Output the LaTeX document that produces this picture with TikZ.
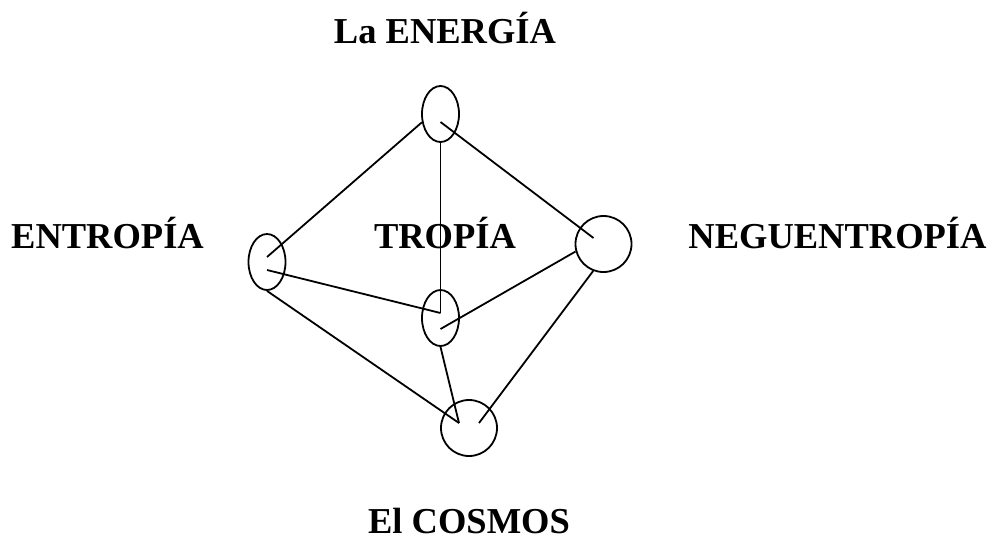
\documentclass[tikz,border=0pt]{standalone}
\usepackage{fontspec}
\setmainfont{Liberation Serif}
\usetikzlibrary{shapes.geometric}

\begin{document}
\begin{tikzpicture}[x=1pt,y=-1pt,line width=1.8pt,
    oval/.style={draw,ellipse,inner sep=0pt,minimum width=37pt,minimum height=56pt},
    ring/.style={draw,circle,inner sep=0pt,minimum size=56pt},
    title/.style={anchor=base,inner sep=0pt,font=\fontsize{36.5}{40}\selectfont\bfseries}]
    \useasboundingbox (0,0) rectangle (992,542);
    % names
    \node[title] (tEnergia) at (445,43) {La ENERGÍA};
    \node[title] (tEntropia) at (107.5,248) {ENTROPÍA};
    \node[title] (tTropia) at (445,248) {TROPÍA};
    \node[title] (tNeguen) at (837.5,248) {NEGUENTROPÍA};
    \node[title] (tCosmos) at (469,533) {El COSMOS};
    % the five bodies
    \node[oval] (energia) at (440.5,114) {};
    \node[oval] (entropia) at (267,262) {};
    \node[oval] (tropia) at (440.5,318) {};
    \node[ring] (neguen) at (603.5,244) {};
    \node[ring] (cosmos) at (469,428) {};
    % links
    \draw (energia.204) -- ([yshift=5pt]entropia.center);
    \draw ([yshift=-8pt]energia.center) -- ([xshift=-10pt,yshift=6pt]neguen.center);
    \draw (energia.south) -- ([yshift=5pt]tropia.center);
    \draw ([yshift=-8pt]entropia.center) -- ([yshift=5pt]tropia.center);
    \draw (entropia.south) -- ([xshift=-10pt,yshift=5pt]cosmos.center);
    \draw ([yshift=-11pt]tropia.center) -- (neguen.195);
    \draw (tropia.south) -- ([xshift=-10pt,yshift=5pt]cosmos.center);
    \draw (neguen.249) -- ([xshift=10pt,yshift=5pt]cosmos.center);
\end{tikzpicture}
\end{document}
